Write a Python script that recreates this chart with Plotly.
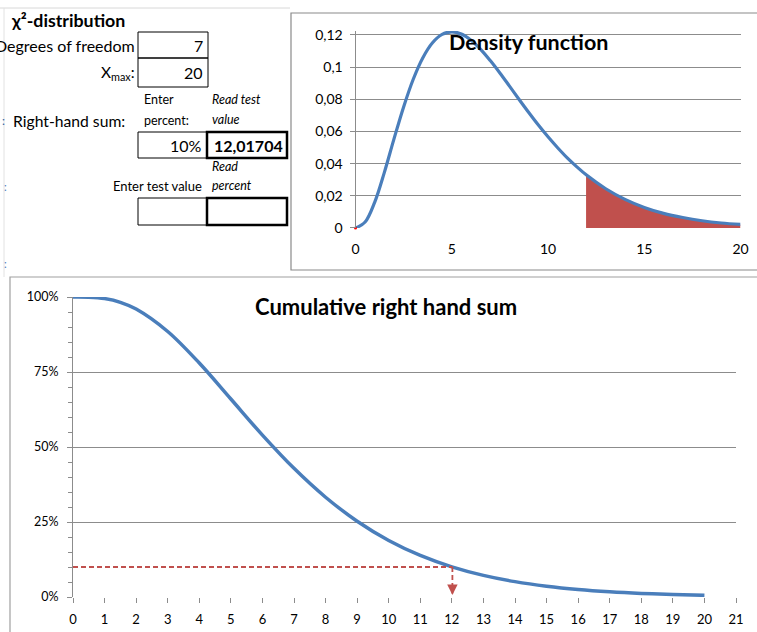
import plotly.graph_objects as go

# ---------------- data ----------------
dens_x = [0, 0.5, 1, 1.5, 2, 2.5, 3, 3.5, 4, 4.5, 5, 5.5, 6, 6.5, 7, 7.5, 8, 8.5, 9, 9.5,
          10, 10.5, 11, 11.5, 12, 13, 14, 15, 16, 17, 18, 19, 20]
dens_y = [0, 0.0037, 0.0161, 0.0346, 0.0554, 0.0753, 0.0925, 0.1059, 0.1152, 0.1204, 0.1220,
          0.1206, 0.1168, 0.1111, 0.1041, 0.0964, 0.0882, 0.0799, 0.0718, 0.0640,
          0.0567, 0.0499, 0.0436, 0.0380, 0.0329, 0.0244, 0.0178, 0.0128, 0.0091,
          0.0065, 0.0045, 0.0031, 0.0022]
tail_x = [12.017, 13, 14, 15, 16, 17, 18, 19, 20]
tail_y = [0.0327, 0.0244, 0.0178, 0.0128, 0.0091, 0.0065, 0.0045, 0.0031, 0.0022]

cum_x = [0, 0.5, 1, 1.5, 2, 3, 4, 5, 6, 7, 8, 9, 10, 11, 12, 13, 14, 15, 16, 17, 18, 19, 20]
cum_y = [1.0, 0.9994, 0.9948, 0.9823, 0.9599, 0.8850, 0.7798, 0.6600, 0.5398, 0.4289,
         0.3326, 0.2527, 0.1886, 0.1386, 0.1006, 0.0721, 0.0512, 0.0360, 0.0251,
         0.0174, 0.0120, 0.0082, 0.0056]

dof = "7"
xmax = "20"
enter_percent = "10%"
test_value = 12.01704
test_percent = 0.10
test_value_text = "12,01704"

dens_yticks = [0, 0.02, 0.04, 0.06, 0.08, 0.1, 0.12]
dens_yticktext = ["0", "0,02", "0,04", "0,06", "0,08", "0,1", "0,12"]
dens_xticks = [0, 5, 10, 15, 20]
cum_xticks = list(range(0, 22))
cum_yticks = [0, 0.25, 0.5, 0.75, 1.0]

# ---------------- styles ----------------
W, H = 757, 632
BLUE = "#4A7EBB"
RED = "#C0504D"
GRID = "#8C8C8C"
FONT = "Lato, 'Open Sans', sans-serif"


def px(x):
    return x / W


def py(y):
    return 1 - y / H


fig = go.Figure()

# density chart
fig.add_trace(go.Scatter(x=tail_x, y=tail_y, mode="lines", line=dict(color=RED, width=0, shape="spline"),
                         fill="tozeroy", fillcolor=RED, xaxis="x", yaxis="y", hoverinfo="skip"))
fig.add_trace(go.Scatter(x=[tail_x[0], tail_x[0]], y=[0, tail_y[0]], mode="lines",
                         line=dict(color=RED, width=1.5), xaxis="x", yaxis="y"))
fig.add_trace(go.Scatter(x=dens_x, y=dens_y, mode="lines", line=dict(color=BLUE, width=3.2, shape="spline"),
                         xaxis="x", yaxis="y"))
fig.add_trace(go.Scatter(x=[0], y=[0], mode="markers", marker=dict(color="red", size=3),
                         xaxis="x", yaxis="y", cliponaxis=False))

# cumulative chart
fig.add_trace(go.Scatter(x=cum_x, y=cum_y, mode="lines", line=dict(color=BLUE, width=3.5, shape="spline"),
                         xaxis="x2", yaxis="y2"))
fig.add_trace(go.Scatter(x=[0, test_value], y=[test_percent, test_percent], mode="lines",
                         line=dict(color=RED, width=1.8, dash="5px,3px"), xaxis="x2", yaxis="y2"))
fig.add_trace(go.Scatter(x=[test_value, test_value], y=[test_percent, 0.012], mode="lines",
                         line=dict(color=RED, width=1.8, dash="5px,3px"), xaxis="x2", yaxis="y2"))

shapes = []
annotations = []

# frames
shapes.append(dict(type="line", xref="paper", yref="paper", x0=px(0), x1=px(290), y0=py(8), y1=py(8),
                   line=dict(color="#D8D8D8", width=1)))
shapes.append(dict(type="line", xref="paper", yref="paper", x0=px(4), x1=px(4), y0=py(8), y1=py(277),
                   line=dict(color="#E2E2E2", width=1)))
shapes.append(dict(type="rect", xref="paper", yref="paper", x0=px(291), x1=px(762), y0=py(13), y1=py(270),
                   line=dict(color="#8A8A8A", width=1.2)))
shapes.append(dict(type="rect", xref="paper", yref="paper", x0=px(10), x1=px(762), y0=py(277), y1=py(650),
                   line=dict(color="#A0A0A0", width=1.2)))


def cell(x0, y0, x1, y1, w=1):
    shapes.append(dict(type="rect", xref="paper", yref="paper", x0=px(x0), x1=px(x1), y0=py(y1), y1=py(y0),
                       line=dict(color="black", width=w)))


cell(138, 32, 208, 58)
cell(138, 58, 208, 87)
cell(138, 132, 207, 158)
cell(207, 132, 287, 158, 2.5)
cell(138, 198, 207, 225)
cell(207, 198, 287, 225, 2.5)


def text(x, y, s, anchor="left", size=14, bold=False, italic=False, color="black"):
    if bold:
        s = "<b>" + s + "</b>"
    if italic:
        s = "<i>" + s + "</i>"
    annotations.append(dict(x=px(x), y=py(y), xref="paper", yref="paper", text=s, showarrow=False,
                            xanchor=anchor, yanchor="middle", font=dict(family=FONT, size=size, color=color)))


text(9, 20, "χ²-distribution", size=17.8, bold=True)
text(137, 46, "Degrees of freedom", anchor="right", size=16)
text(205, 46, dof, anchor="right", size=16)
text(137, 73, "X<sub>max</sub>:", anchor="right", size=15.5)
text(205, 73, xmax, anchor="right", size=16)
text(142, 100, "Enter", size=12.5)
text(142, 120, "percent:", size=12.5)
text(210, 100, "Read test", size=12.5, italic=True)
text(210, 119, "value", size=12.5, italic=True)
text(11, 121, "Right-hand sum:", size=15.7)
text(204, 145, enter_percent, anchor="right", size=16)
text(285, 145, test_value_text, anchor="right", size=16, bold=True)
text(210, 166, "Read", size=12.5, italic=True)
text(210, 185, "percent", size=12.5, italic=True)
text(204, 186, "Enter test value", anchor="right", size=13)
text(0, 120, ":", size=12, color="#3060A0")
text(2, 186, ":", size=11, color="#4A7EBB")
text(2, 263, ":", size=11, color="#4A7EBB")

# chart titles
text(528, 42, "Density function", anchor="center", size=21.5, bold=True)
text(386, 306, "Cumulative right hand sum", anchor="center", size=22, bold=True)

# arrow head at the test value
annotations.append(dict(x=test_value, y=0.007, ax=test_value, ay=0.03, xref="x2", yref="y2",
                        axref="x2", ayref="y2", showarrow=True, arrowhead=2, arrowsize=1.3,
                        arrowwidth=1.6, arrowcolor=RED, text=""))

top_pad = 0.0025
dens_top_px = 35 - top_pad / 0.12 * 193

fig.update_layout(
    width=W, height=H,
    margin=dict(l=0, r=0, t=0, b=0, autoexpand=False),
    paper_bgcolor="white", plot_bgcolor="white",
    showlegend=False,
    font=dict(family=FONT, size=13, color="black"),
    shapes=shapes,
    annotations=annotations,
    xaxis=dict(domain=[px(355.5), px(740.5)], anchor="y", range=[0, 20], tickvals=dens_xticks,
               showgrid=False, zeroline=False, showline=False, ticks="", tickfont=dict(size=14),
               ticklabelstandoff=11, automargin=False),
    yaxis=dict(domain=[py(228), py(dens_top_px)], anchor="x", range=[0, 0.12 + top_pad], tickvals=dens_yticks,
               ticktext=dens_yticktext, showgrid=True, gridcolor=GRID, gridwidth=1, zeroline=False,
               showline=True, linecolor=GRID, ticks="outside", ticklen=5, tickcolor=GRID,
               tickfont=dict(size=14), ticklabelstandoff=4, automargin=False),
    xaxis2=dict(domain=[px(73), px(736)], anchor="y2", range=[0, 21], tickvals=cum_xticks,
                showgrid=False, zeroline=False, showline=False, ticks="outside", ticklen=5,
                tickcolor=GRID, tickfont=dict(size=13), ticklabelstandoff=5, automargin=False),
    yaxis2=dict(domain=[py(597), py(297)], anchor="x2", range=[0, 1.0], tickvals=cum_yticks,
                tickformat=".0%", showgrid=True, gridcolor=GRID, gridwidth=1, zeroline=False,
                showline=True, linecolor=GRID, ticks="outside", ticklen=5, tickcolor=GRID,
                minor=dict(dtick=0.05, ticks="outside", ticklen=4, tickcolor=GRID, showgrid=False),
                tickfont=dict(size=12.5), ticklabelstandoff=6, automargin=False),
)

fig.write_html("out.html", config={"displayModeBar": False},
               post_script="document.body.style.margin='0';document.body.style.padding='0';"
                           "document.body.style.overflow='hidden';")
